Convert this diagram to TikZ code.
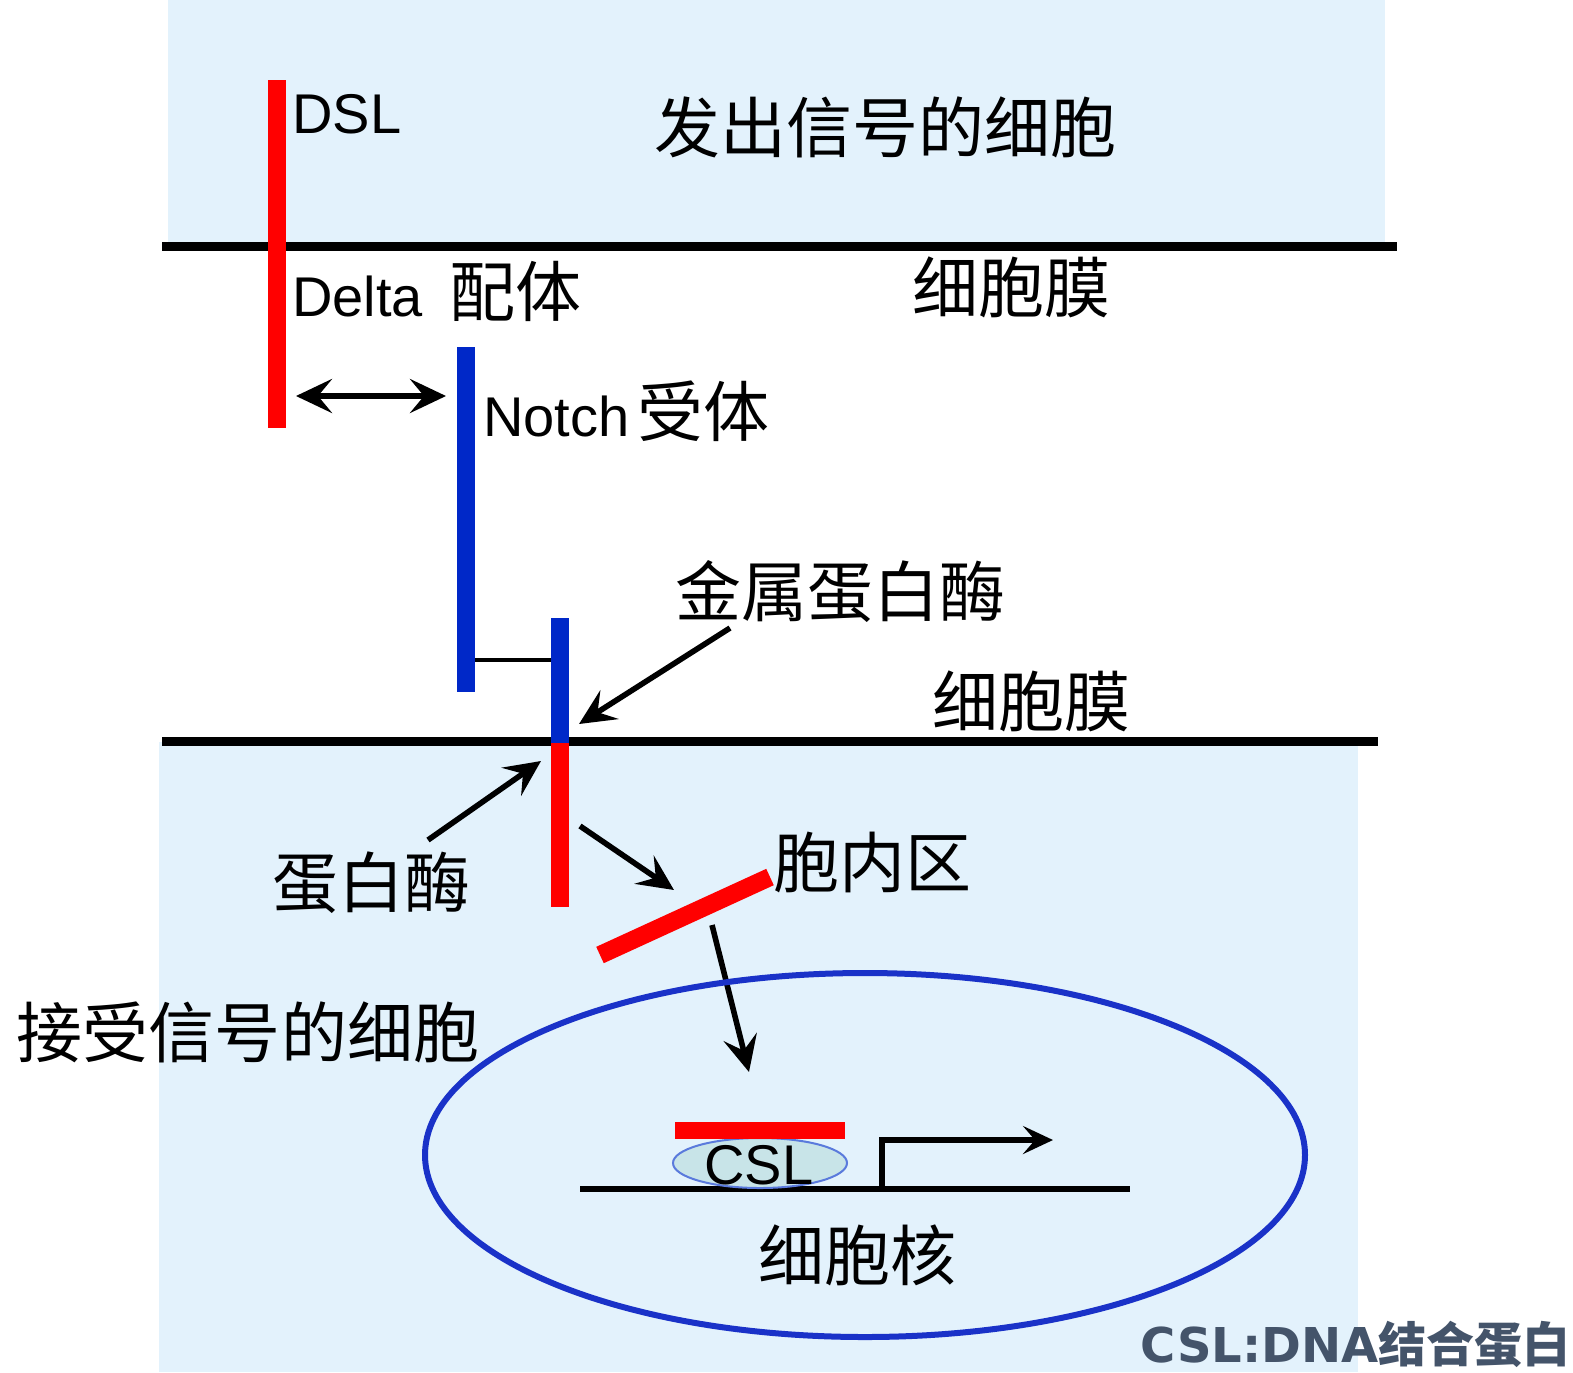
\documentclass[tikz,border=0pt]{standalone}
\usepackage{fontspec}
\setmainfont{Liberation Sans}
\newfontfamily\cjk{Noto Sans CJK SC}
\newfontfamily\dvs{DejaVu Sans}
\usetikzlibrary{arrows.meta,shapes.geometric}
\definecolor{bgblue}{HTML}{E3F2FC}
\definecolor{sigred}{HTML}{FF0000}
\definecolor{notchblue}{HTML}{0028C8}
\definecolor{nucblue}{HTML}{1A32C8}
\definecolor{cslfill}{HTML}{C8E4E8}
\definecolor{cslline}{HTML}{5A7ADC}
\definecolor{slate}{HTML}{44546A}
\tikzset{
  membrane/.style={line width=4.5pt, black},
  redbar/.style={line width=9pt, sigred},
  bluebar/.style={line width=9pt, notchblue},
  tip/.tip={Stealth[length=18pt,width=17pt,inset=7pt]},
  arr/.style={line width=2.8pt, -tip},
  cjklabel/.style={inner sep=0pt, font=\cjk\fontsize{33}{36}\selectfont},
  latlabel/.style={inner sep=0pt, anchor=base west, font=\fontsize{28}{30}\selectfont}
}
\begin{document}
\begin{tikzpicture}[x=0.5pt,y=-0.5pt]
\useasboundingbox (0,0) rectangle (1573,1372);
\fill[white] (0,0) rectangle (1573,1372);
% backgrounds
\fill[bgblue] (168,0) rectangle (1385,242);
\fill[bgblue] (159,742) rectangle (1358,1372);
% membranes
\draw[membrane] (162,246) -- (1397,246);
\draw[membrane] (162,741) -- (1378,741);
% coordinates
\coordinate (dslT) at (277,80);
\coordinate (dslB) at (277,428);
\coordinate (n1T) at (466,347);
\coordinate (n1B) at (466,692);
\coordinate (n2T) at (560,618);
\coordinate (n2M) at (560,743);
\coordinate (n2B) at (560,907);
\coordinate (linkL) at (475,660);
\coordinate (linkR) at (551,660);
\coordinate (dblL) at (296,396);
\coordinate (dblR) at (446,396);
\coordinate (mpS) at (730,628);
\coordinate (mpE) at (579,724);
\coordinate (prS) at (428,840);
\coordinate (prE) at (541,761);
\coordinate (icS) at (580,826);
\coordinate (icE) at (674,890);
\coordinate (nicdA) at (600,955);
\coordinate (nicdB) at (770,877);
\coordinate (nuS) at (712,925);
\coordinate (nuE) at (749,1072);
\coordinate (dnaL) at (580,1189);
\coordinate (dnaR) at (1130,1189);
\coordinate (tss) at (882,1189);
\coordinate (tssE) at (1053,1140);
% bars
\draw[redbar] (dslT) -- (dslB);
\draw[bluebar] (n1T) -- (n1B);
\draw[bluebar] (n2T) -- (n2M);
\draw[redbar] (n2M) -- (n2B);
\draw[line width=2.4pt] (linkL) -- (linkR);
\draw[redbar] (nicdA) -- (nicdB);
% arrows
\draw[line width=2.8pt, tip-tip] (dblL) -- (dblR);
\draw[arr] (mpS) -- (mpE);
\draw[arr] (prS) -- (prE);
\draw[arr] (icS) -- (icE);
\draw[arr] (nuS) -- (nuE);
% nucleus
\draw[nucblue, line width=3pt] (865,1155) ellipse [x radius=220pt, y radius=91pt];
\draw[line width=3pt] (dnaL) -- (dnaR);
\draw[line width=2.8pt, -{Stealth[length=15pt,width=14pt,inset=6pt]}] (tss) |- (tssE);
\node[draw=cslline, line width=1pt, fill=cslfill, ellipse, minimum width=87pt, minimum height=25pt, inner sep=0pt] (cslshape) at (760,1163) {};
\draw[line width=8.5pt, sigred] (675,1130) -- (845,1130);
\node[inner sep=0pt, font=\fontsize{28}{30}\selectfont] (csl) at (759,1165) {CSL};
% labels
\node[latlabel] (dsl) at (292,133) {DSL};
\node[latlabel] (delta) at (292,316) {Delta\hspace{13pt}{\cjk\fontsize{33}{35}\selectfont 配体}};
\node[latlabel] (notch) at (483,436) {Notch\hspace{4pt}{\cjk\fontsize{33}{35}\selectfont 受体}};
\node[cjklabel] (send) at (885,127) {发出信号的细胞};
\node[cjklabel] (mem1) at (1011,287) {细胞膜};
\node[cjklabel] (mmp) at (840,592) {金属蛋白酶};
\node[cjklabel] (mem2) at (1031,701) {细胞膜};
\node[cjklabel] (prot) at (371,883) {蛋白酶};
\node[cjklabel] (icd) at (872,862) {胞内区};
\node[cjklabel] (recv) at (248,1032) {接受信号的细胞};
\node[cjklabel] (nuc) at (857,1255) {细胞核};
\node[inner sep=0pt, anchor=base east, text=slate, font=\bfseries\fontsize{24}{26}\selectfont] (note) at (1571,1362) {{\dvs CSL:DNA}{\cjk 结合蛋白}};
\end{tikzpicture}
\end{document}
